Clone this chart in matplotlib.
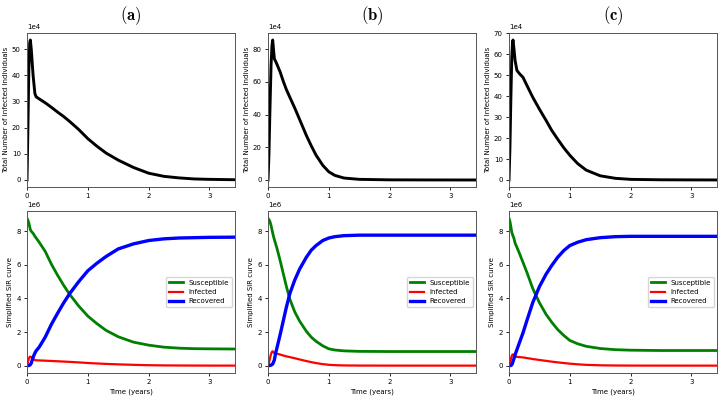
import matplotlib
matplotlib.use('Agg')
import matplotlib.pyplot as plt
import numpy as np

plt.rcParams['mathtext.fontset'] = 'cm'

# ---- panel (a) ----
t_a = [0, 0.015, 0.03, 0.045, 0.055, 0.07, 0.1, 0.13, 0.15, 0.2, 0.3, 0.4, 0.5, 0.6,
       0.7, 0.85, 1.0, 1.15, 1.3, 1.5, 1.75, 2.0, 2.25, 2.5, 2.75, 3.0, 3.42]
inf_a = [0, 20, 42, 52.5, 53.5, 50, 40, 33, 31.8, 31.0, 29.5, 27.8, 26, 24.3, 22.4,
         19.3, 15.8, 12.9, 10.3, 7.6, 4.8, 2.6, 1.4, 0.8, 0.4, 0.25, 0.1]   # 1e4
sus_a = [8.77, 8.66, 8.5, 8.25, 8.1, 8.0, 7.88, 7.7, 7.6, 7.35, 6.8, 6.05, 5.4, 4.8,
         4.25, 3.55, 2.95, 2.5, 2.1, 1.72, 1.4, 1.22, 1.1, 1.04, 1.01, 1.0, 0.99]  # 1e6
rec_a = [0, 0, 0.01, 0.03, 0.06, 0.15, 0.5, 0.75, 0.88, 1.1, 1.7, 2.45, 3.1, 3.72,
         4.28, 5.0, 5.65, 6.1, 6.5, 6.95, 7.25, 7.45, 7.55, 7.6, 7.62, 7.64, 7.65]  # 1e6

# ---- panel (b) ----
t_b = [0, 0.015, 0.03, 0.05, 0.065, 0.077, 0.09, 0.105, 0.126, 0.15, 0.2, 0.25, 0.3,
       0.36, 0.44, 0.52, 0.63, 0.71, 0.79, 0.9, 1.0, 1.1, 1.25, 1.5, 2.0, 2.5, 3.0, 3.42]
inf_b = [0, 15, 40, 70, 82, 85.6, 80, 74, 72.5, 70.5, 66, 60.5, 55.5, 50.5, 44, 37,
         27.3, 21, 15.2, 9, 5.0, 2.8, 1.2, 0.4, 0.1, 0.05, 0.02, 0.01]
sus_b = [8.77, 8.7, 8.6, 8.35, 8.1, 7.9, 7.7, 7.5, 7.25, 6.95, 6.25, 5.5, 4.75, 3.95,
         3.2, 2.65, 2.05, 1.7, 1.45, 1.18, 1.0, 0.93, 0.88, 0.85, 0.84, 0.84, 0.84, 0.84]
rec_b = [0, 0, 0.01, 0.03, 0.06, 0.1, 0.2, 0.35, 0.75, 1.1, 1.85, 2.65, 3.45, 4.3,
         5.1, 5.75, 6.45, 6.87, 7.15, 7.45, 7.6, 7.68, 7.74, 7.77, 7.77, 7.77, 7.77, 7.77]

# ---- panel (c) ----
t_c = [0, 0.015, 0.03, 0.045, 0.058, 0.066, 0.08, 0.1, 0.13, 0.17, 0.23, 0.3, 0.39,
       0.5, 0.61, 0.7, 0.8, 0.9, 1.0, 1.13, 1.27, 1.5, 1.75, 2.0, 2.5, 3.0, 3.42]
inf_c = [0, 15, 38, 58, 65.5, 66.8, 63, 57, 52.3, 50.8, 49, 44.8, 39.5, 33.8, 28.4,
         23.8, 19.5, 15.4, 11.8, 7.8, 4.7, 2.0, 0.8, 0.3, 0.1, 0.05, 0.02]
sus_c = [8.77, 8.6, 8.3, 7.95, 7.8, 7.72, 7.6, 7.3, 7.05, 6.7, 6.15, 5.5, 4.6, 3.75,
         3.05, 2.6, 2.15, 1.8, 1.5, 1.3, 1.15, 1.02, 0.95, 0.92, 0.9, 0.9, 0.9]
rec_c = [0, 0, 0.01, 0.05, 0.15, 0.25, 0.4, 0.65, 0.95, 1.35, 1.95, 2.75, 3.75, 4.7,
         5.45, 5.95, 6.45, 6.85, 7.15, 7.35, 7.5, 7.62, 7.68, 7.7, 7.7, 7.7, 7.7]

panels = [('(a)', t_a, inf_a, sus_a, rec_a),
          ('(b)', t_b, inf_b, sus_b, rec_b),
          ('(c)', t_c, inf_c, sus_c, rec_c)]

lefts = [27, 268, 509]
fs = 5

fig = plt.figure(figsize=(7.19, 3.97), dpi=100)
W, H = 719., 397.

for k, (lab, t, inf, sus, rec) in enumerate(panels):
    t = np.array(t)
    I = np.array(inf) * 1e4
    S = np.array(sus) * 1e6
    R = np.array(rec) * 1e6
    l = lefts[k] / W
    w = 208 / W

    ax1 = fig.add_axes([l, 1 - 187 / H, w, (187 - 33) / H])
    ax1.plot(t, I, color='black', lw=2.1)
    ax1.set_xlim(0, 3.42)
    ax1.ticklabel_format(axis='y', style='sci', scilimits=(4, 4))
    ax1.set_ylabel('Total Number of Infected Individuals', fontsize=fs, labelpad=2)
    ax1.set_title(r'$\mathbf{' + lab + '}$', fontsize=12, pad=9)

    ax2 = fig.add_axes([l, 1 - 373 / H, w, (373 - 211) / H])
    ax2.plot(t, S, color='green', lw=2.0, label='Susceptible')
    ax2.plot(t, I, color='red', lw=1.6, label='Infected')
    ax2.plot(t, R, color='blue', lw=2.4, label='Recovered')
    ax2.set_xlim(0, 3.42)
    ax2.set_ylabel('Simplified SIR curve', fontsize=fs, labelpad=2)
    ax2.set_xlabel('Time (years)', fontsize=fs, labelpad=2)
    ax2.legend(loc='center right', fontsize=fs)

    for ax in (ax1, ax2):
        ax.set_xticks([0, 1, 2, 3])
        ax.tick_params(labelsize=fs, length=2.5, width=0.6, pad=2)
        ax.yaxis.get_offset_text().set_fontsize(fs)
        for sp in ax.spines.values():
            sp.set_linewidth(0.7)
            sp.set_color('#555555')

fig.savefig('out.png', dpi=100)
